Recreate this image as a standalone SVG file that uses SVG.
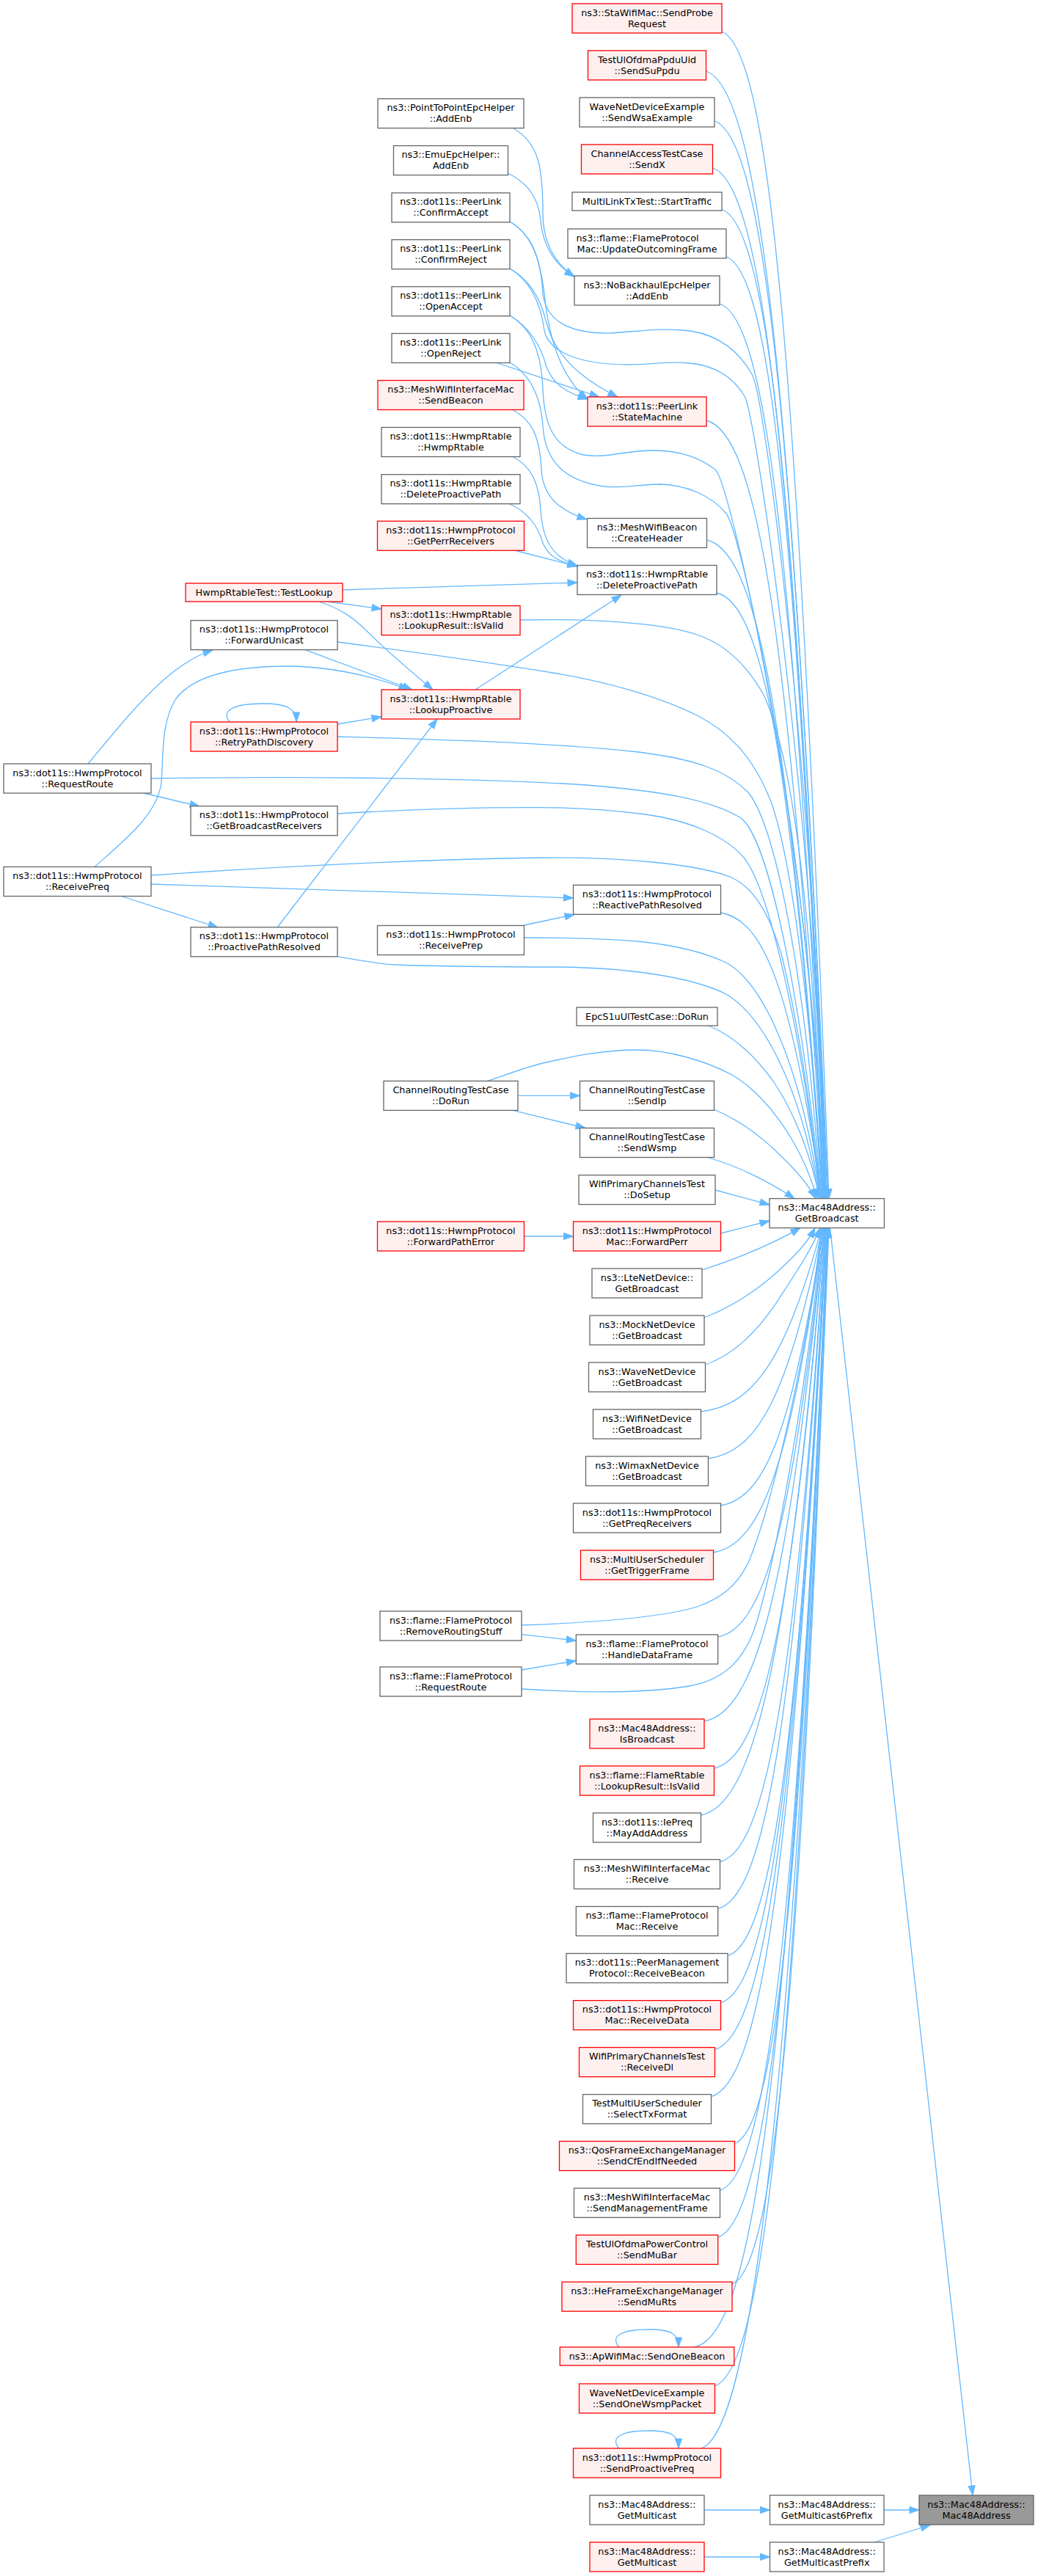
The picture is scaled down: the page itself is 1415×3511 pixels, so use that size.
<svg xmlns="http://www.w3.org/2000/svg" width="1415" height="3511" viewBox="0 0 1415 3511">
<defs>
<marker id="ah" markerUnits="userSpaceOnUse" markerWidth="16" markerHeight="12" refX="13" refY="5" orient="auto" overflow="visible">
<path d="M0,0.4 L13,5 L0,9.6 z" fill="#63b8ff" stroke="#63b8ff" stroke-width="1"/>
</marker>
<style>
.n rect{fill:#ffffff;stroke:#666666;stroke-width:1.3}
.r rect{fill:#fff0f0;stroke:#ff0000;stroke-width:1.3}
.g rect{fill:#999999;stroke:#666666;stroke-width:1.3}
text{font-family:"DejaVu Sans",sans-serif;font-size:12.8px;fill:#000000;text-anchor:middle}
text.s{text-anchor:start}
#edges path{fill:none;stroke:#63b8ff;stroke-width:1.3;marker-end:url(#ah)}
</style>
</defs>
<rect x="0" y="0" width="1415" height="3511" fill="#ffffff"/>
<g id="edges">
<path d="M984,43 C1045.3,67.1 1086.2,440.7 1130,1633.6"/>
<path d="M962.5,97 C1032.4,120.4 1079.1,481.2 1129,1633.6"/>
<path d="M974,165 C1038.7,187.6 1081.8,532.2 1128,1633.6"/>
<path d="M971.5,229 C1036.8,250.9 1080.4,580.2 1127,1633.6"/>
<path d="M984,285.5 C1043.6,306.7 1083.4,622.5 1126,1633.6"/>
<path d="M990,350 C1046.7,370.4 1084.5,670.9 1125,1633.6"/>
<path d="M981,414 C1041,433.6 1081.1,718.9 1124,1633.6"/>
<path d="M963,573 C1030.2,590.7 1075,838.2 1123,1633.6"/>
<path d="M963.5,736 C1030.1,751.8 1074.5,960.4 1122,1633.6"/>
<path d="M977,808 C1037.5,822.9 1077.8,1014.4 1121,1633.6"/>
<path d="M982.5,1244 C1039.8,1253.7 1078,1341.4 1120,1633.6"/>
<path d="M966,1398 C1000,1412 1030,1440 1055,1475 C1085,1520 1107,1580 1117,1633.6"/>
<path d="M973.5,1512 C1010,1528 1040,1550 1067,1578 C1087,1597 1102,1615 1112,1633.6"/>
<path d="M966,1578 C1000,1588 1040,1605 1083,1633.6"/>
<path d="M975,1622 L1049,1642"/>
<path d="M982.5,1681 L1049,1664"/>
<path d="M957,1731 C1000,1717 1050,1697 1091,1673.6"/>
<path d="M960,1796 C995,1782 1030,1760 1058,1735 C1083,1712 1100,1695 1111,1673.6"/>
<path d="M961.5,1860 C995,1848 1030,1820 1062,1770 C1088,1730 1108,1700 1118,1673.6"/>
<path d="M955.5,1924 C1023.8,1916 1069.3,1861.4 1120,1673.6"/>
<path d="M965.5,1988 C1030.4,1979.2 1073.6,1909.4 1121,1673.6"/>
<path d="M982.5,2052 C1040.7,2042.5 1079.5,1957.4 1122,1673.6"/>
<path d="M972.5,2116 C1035.3,2105.7 1077.2,2005.4 1122,1673.6"/>
<path d="M978.7,2231 C1039.3,2219.3 1079.7,2091.7 1123,1673.6"/>
<path d="M960,2346 C1028.9,2332.9 1074.8,2177.9 1123,1673.6"/>
<path d="M973.5,2410 C1037.1,2396.2 1079.6,2225.9 1124,1673.6"/>
<path d="M955.5,2474 C1026.7,2459.4 1074.2,2273.9 1124,1673.6"/>
<path d="M981.5,2537.5 C1042.2,2522.1 1082.7,2321.5 1125,1673.6"/>
<path d="M978.7,2601.5 C1040.6,2585.4 1081.8,2369.5 1125,1673.6"/>
<path d="M992,2665.5 C1048.7,2648.6 1086.5,2417.5 1126,1673.6"/>
<path d="M982.5,2729.6 C1043.2,2711.9 1083.7,2465.6 1126,1673.6"/>
<path d="M974.5,2793.6 C1039,2775.2 1082,2513.6 1127,1673.6"/>
<path d="M969.5,2857.6 C1036.1,2838.4 1080.5,2561.6 1127,1673.6"/>
<path d="M1001.5,2921.5 C1055.1,2901.5 1090.7,2609.5 1128,1673.6"/>
<path d="M981.5,2985.4 C1043.5,2964.7 1084.8,2657.5 1128,1673.6"/>
<path d="M978.7,3049.3 C1041.8,3027.8 1083.9,2705.4 1128,1673.6"/>
<path d="M998,3113.2 C1053.4,3090.9 1090.4,2753.3 1129,1673.6"/>
<path d="M947,3199 C1030,3180 1075,2817.6 1129,1673.6"/>
<path d="M974.5,3252 C1039.8,3228.1 1083.4,2857.4 1129,1673.6"/>
<path d="M956,3337 C1020,3315 1078.5,2921.2 1130,1673.6"/>
<path d="M700,175 C735,195 740,230 740,290 C740,330 755,358 783,377"/>
<path d="M692.5,236 C720,250 734,270 737,300 C740,335 755,360 783,377"/>
<path d="M695,302 C722,318 735,345 742,400 C748,460 765,515 801,544"/>
<path d="M695,366 C718,379 735,400 745,440 C758,490 800,520 842,541"/>
<path d="M695,430 C720,445 737,470 745,500 C755,525 772,535 801,544"/>
<path d="M677,494.5 L817,541"/>
<path d="M695,302 C725,320 737,350 740,400 C745,440 780,455 832,454 C870,452 890,447 930,450 C975,453 1005,475 1025,510 S1112,1100 1126,1633.6"/>
<path d="M695,366 C718,380 736,405 742,450 C748,480 790,497 857,497 C890,497 910,492 940,495 C975,498 1000,515 1015,540 S1110,1100 1125,1633.6"/>
<path d="M695,430 C725,448 738,480 740,530 C742,580 755,610 795,620 C830,625 850,614 890,614 C930,614 955,625 975,640 S1108,1150 1124,1633.6"/>
<path d="M695,494 C722,510 737,540 740,580 C743,630 770,655 823,663 C850,666 870,660 900,660 C935,661 970,675 990,700 S1106,1150 1123,1633.6"/>
<path d="M698,558 C725,572 736,595 738,640 C740,675 760,695 800,708"/>
<path d="M698,622 C725,635 735,660 737,695 C740,740 755,760 787,771"/>
<path d="M693,686 C718,697 733,715 740,740 C747,758 763,766 787,772"/>
<path d="M703,750.5 L787,772"/>
<path d="M466,804 L787,794"/>
<path d="M648,940 L847,811"/>
<path d="M447,820 L520,830"/>
<path d="M435,820 C462,829 480,840 500,860 C530,890 560,915 590,940"/>
<path d="M416,885.6 L562,940"/>
<path d="M460,987 L520,977"/>
<path d="M129,1181.5 C170,1145 215,1110 220,1066 C223,1030 219,985 240,952 C265,920 320,908 392,908 C440,908 500,918 557,940"/>
<path d="M378,1264 L596,980"/>
<path d="M120,1041 C150,1005 190,955 225,925 C248,905 268,893 290,886"/>
<path d="M196,1081 L272,1099"/>
<path d="M206,1061 C400,1058 650,1060 800,1070 C900,1078 970,1090 1010,1115 C1050,1145 1095,1380 1119,1633.6"/>
<path d="M460,1109 C560,1103 650,1100 740,1100.6 C800,1101 840,1105 880,1110 C940,1118 990,1140 1015,1170 C1050,1215 1095,1420 1118,1633.6"/>
<path d="M206,1193 C350,1183 550,1172 740,1169 C850,1168 950,1178 995,1195 C1030,1210 1050,1250 1065,1300 C1085,1380 1105,1500 1118,1633.6"/>
<path d="M206,1205 L781.5,1224"/>
<path d="M167,1222 L297,1264"/>
<path d="M460,1303.6 C490,1309 510,1313 540,1315 C620,1318 700,1318 760,1318 C850,1319 940,1330 990,1355 C1040,1385 1092,1480 1117,1633.6"/>
<path d="M714.5,1261 L783,1246.5"/>
<path d="M714.5,1278 C760,1278 820,1279 869,1283 C920,1288 960,1298 990,1312 C1040,1340 1092,1450 1118,1633.6"/>
<path d="M709,845 C800,843 900,848 950,865 C990,878 1020,910 1041,947 C1080,1030 1110,1250 1121,1633.6"/>
<path d="M460,875 C560,888 680,905 760,918 C830,930 900,950 950,975 C1000,1000 1030,1040 1050,1090 C1080,1170 1108,1400 1120,1633.6"/>
<path d="M460,1004 C600,1008 750,1012 870,1025 C950,1035 990,1050 1020,1080 C1060,1130 1100,1350 1119,1633.6"/>
<path d="M665,1473.4 C690,1465 715,1455 740,1449 C780,1440 820,1431 869,1431 C910,1431 960,1445 998,1465 C1040,1490 1090,1550 1114,1633.6"/>
<path d="M706,1493.4 L790.5,1493.4"/>
<path d="M699,1513.4 L798,1537.5"/>
<path d="M714.5,1685 L781.5,1685"/>
<path d="M711,2227.7 L785.3,2236"/>
<path d="M711,2276 L785.3,2263.6"/>
<path d="M711,2215 C800,2212 900,2205 950,2190 C985,2178 1005,2160 1020,2130 C1050,2060 1100,1850 1120,1673.6"/>
<path d="M711,2302 C790,2307 880,2308 940,2298 C985,2290 1010,2265 1025,2229 C1050,2170 1100,1900 1121,1673.6"/>
<path d="M960,3421 L1049.5,3421"/>
<path d="M960,3485 L1049.5,3485"/>
<path d="M1205,3421 L1253,3421"/>
<path d="M1192,3465 L1268,3441.5"/>
<path d="M1131.5,1673.6 L1326,3401"/>
<path d="M313,984 C300,968 320,959 358,959 C392,959 404,966 404,984"/>
<path d="M844,3199 C830,3183 850,3175 885,3175 C915,3175 925,3181 925,3199"/>
<path d="M844,3337 C830,3321 850,3313 884,3313 C915,3313 925,3319 925,3337"/>
</g>
<g id="n_sta" class="r"><rect x="780" y="5" width="204" height="40"/><text x="882" y="21.5">ns3::StaWifiMac::SendProbe</text><text x="882" y="36.5">Request</text></g>
<g id="n_testul" class="r"><rect x="801.5" y="69" width="161" height="40"/><text x="882" y="85.5">TestUlOfdmaPpduUid</text><text x="882" y="100.5">::SendSuPpdu</text></g>
<g id="n_wsa" class="n"><rect x="790" y="133" width="184" height="40"/><text x="882" y="149.5">WaveNetDeviceExample</text><text x="882" y="164.5">::SendWsaExample</text></g>
<g id="n_chx" class="r"><rect x="792.5" y="197" width="179" height="40"/><text x="882" y="213.5">ChannelAccessTestCase</text><text x="882" y="228.5">::SendX</text></g>
<g id="n_mltx" class="n"><rect x="780" y="262" width="204" height="25"/><text x="882" y="279">MultiLinkTxTest::StartTraffic</text></g>
<g id="n_flamemac" class="n"><rect x="774" y="312" width="216" height="40"/><text class="s" x="785.5" y="328.5">ns3::flame::FlameProtocol</text><text x="882" y="343.5">Mac::UpdateOutcomingFrame</text></g>
<g id="n_nobh" class="n"><rect x="783" y="376" width="198" height="40"/><text x="882" y="392.5">ns3::NoBackhaulEpcHelper</text><text x="882" y="407.5">::AddEnb</text></g>
<g id="n_sm" class="r"><rect x="801" y="541" width="162" height="40"/><text x="882" y="557.5">ns3::dot11s::PeerLink</text><text x="882" y="572.5">::StateMachine</text></g>
<g id="n_ch" class="n"><rect x="800.5" y="706.5" width="163" height="40"/><text x="882" y="723">ns3::MeshWifiBeacon</text><text x="882" y="738">::CreateHeader</text></g>
<g id="n_delD" class="n"><rect x="787" y="770.5" width="190" height="40"/><text x="882" y="787">ns3::dot11s::HwmpRtable</text><text x="882" y="802">::DeleteProactivePath</text></g>
<g id="n_rpr" class="n"><rect x="781.5" y="1206.3" width="201" height="40"/><text x="882" y="1222.8">ns3::dot11s::HwmpProtocol</text><text x="882" y="1237.8">::ReactivePathResolved</text></g>
<g id="n_epc" class="n"><rect x="786" y="1373" width="192" height="25"/><text x="882" y="1390">EpcS1uUlTestCase::DoRun</text></g>
<g id="n_sip" class="n"><rect x="790.5" y="1473.4" width="183" height="40"/><text x="882" y="1489.9">ChannelRoutingTestCase</text><text x="882" y="1504.9">::SendIp</text></g>
<g id="n_swsmp" class="n"><rect x="790.5" y="1537.5" width="183" height="40"/><text x="882" y="1554">ChannelRoutingTestCase</text><text x="882" y="1569">::SendWsmp</text></g>
<g id="n_dos" class="n"><rect x="789" y="1601.6" width="186" height="40"/><text x="882" y="1618.1">WifiPrimaryChannelsTest</text><text x="882" y="1633.1">::DoSetup</text></g>
<g id="n_fperr" class="r"><rect x="781.5" y="1665" width="201" height="40"/><text x="882" y="1681.5">ns3::dot11s::HwmpProtocol</text><text x="882" y="1696.5">Mac::ForwardPerr</text></g>
<g id="n_lte" class="n"><rect x="807" y="1729" width="150" height="40"/><text x="882" y="1745.5">ns3::LteNetDevice::</text><text x="882" y="1760.5">GetBroadcast</text></g>
<g id="n_mock" class="n"><rect x="804" y="1793" width="156" height="40"/><text x="882" y="1809.5">ns3::MockNetDevice</text><text x="882" y="1824.5">::GetBroadcast</text></g>
<g id="n_wave" class="n"><rect x="802.5" y="1857" width="159" height="40"/><text x="882" y="1873.5">ns3::WaveNetDevice</text><text x="882" y="1888.5">::GetBroadcast</text></g>
<g id="n_wifi" class="n"><rect x="808.5" y="1921" width="147" height="40"/><text x="882" y="1937.5">ns3::WifiNetDevice</text><text x="882" y="1952.5">::GetBroadcast</text></g>
<g id="n_wimax" class="n"><rect x="798.5" y="1985" width="167" height="40"/><text x="882" y="2001.5">ns3::WimaxNetDevice</text><text x="882" y="2016.5">::GetBroadcast</text></g>
<g id="n_gpreq" class="n"><rect x="781.5" y="2049" width="201" height="40"/><text x="882" y="2065.5">ns3::dot11s::HwmpProtocol</text><text x="882" y="2080.5">::GetPreqReceivers</text></g>
<g id="n_gtrig" class="r"><rect x="791.5" y="2113" width="181" height="40"/><text x="882" y="2129.5">ns3::MultiUserScheduler</text><text x="882" y="2144.5">::GetTriggerFrame</text></g>
<g id="n_hdf" class="n"><rect x="785.3" y="2228" width="193.4" height="40"/><text x="882" y="2244.5">ns3::flame::FlameProtocol</text><text x="882" y="2259.5">::HandleDataFrame</text></g>
<g id="n_isb" class="r"><rect x="804" y="2343" width="156" height="40"/><text x="882" y="2359.5">ns3::Mac48Address::</text><text x="882" y="2374.5">IsBroadcast</text></g>
<g id="n_frt" class="r"><rect x="790.5" y="2407" width="183" height="40"/><text x="882" y="2423.5">ns3::flame::FlameRtable</text><text x="882" y="2438.5">::LookupResult::IsValid</text></g>
<g id="n_may" class="n"><rect x="808.5" y="2471" width="147" height="40"/><text x="882" y="2487.5">ns3::dot11s::IePreq</text><text x="882" y="2502.5">::MayAddAddress</text></g>
<g id="n_mrecv" class="n"><rect x="782.5" y="2534.5" width="199" height="40"/><text x="882" y="2551">ns3::MeshWifiInterfaceMac</text><text x="882" y="2566">::Receive</text></g>
<g id="n_fmrecv" class="n"><rect x="785.3" y="2598.5" width="193.4" height="40"/><text x="882" y="2615">ns3::flame::FlameProtocol</text><text x="882" y="2630">Mac::Receive</text></g>
<g id="n_pmp" class="n"><rect x="772" y="2662.5" width="220" height="40"/><text x="882" y="2679">ns3::dot11s::PeerManagement</text><text x="882" y="2694">Protocol::ReceiveBeacon</text></g>
<g id="n_rdata" class="r"><rect x="781.5" y="2726.6" width="201" height="40"/><text x="882" y="2743.1">ns3::dot11s::HwmpProtocol</text><text x="882" y="2758.1">Mac::ReceiveData</text></g>
<g id="n_rdl" class="r"><rect x="789.5" y="2790.6" width="185" height="40"/><text x="882" y="2807.1">WifiPrimaryChannelsTest</text><text x="882" y="2822.1">::ReceiveDl</text></g>
<g id="n_stx" class="n"><rect x="794.5" y="2854.6" width="175" height="40"/><text x="882" y="2871.1">TestMultiUserScheduler</text><text x="882" y="2886.1">::SelectTxFormat</text></g>
<g id="n_scfe" class="r"><rect x="762.5" y="2918.5" width="239" height="40"/><text x="882" y="2935">ns3::QosFrameExchangeManager</text><text x="882" y="2950">::SendCfEndIfNeeded</text></g>
<g id="n_smgmt" class="n"><rect x="782.5" y="2982.4" width="199" height="40"/><text x="882" y="2998.9">ns3::MeshWifiInterfaceMac</text><text x="882" y="3013.9">::SendManagementFrame</text></g>
<g id="n_smubar" class="r"><rect x="785.3" y="3046.3" width="193.4" height="40"/><text x="882" y="3062.8">TestUlOfdmaPowerControl</text><text x="882" y="3077.8">::SendMuBar</text></g>
<g id="n_smurts" class="r"><rect x="766" y="3110.2" width="232" height="40"/><text x="882" y="3126.7">ns3::HeFrameExchangeManager</text><text x="882" y="3141.7">::SendMuRts</text></g>
<g id="n_sob" class="r"><rect x="763.3" y="3199" width="237.5" height="25"/><text x="882" y="3216">ns3::ApWifiMac::SendOneBeacon</text></g>
<g id="n_sowsmp" class="r"><rect x="789.5" y="3249" width="185" height="40"/><text x="882" y="3265.5">WaveNetDeviceExample</text><text x="882" y="3280.5">::SendOneWsmpPacket</text></g>
<g id="n_sppreq" class="r"><rect x="781.5" y="3337" width="201" height="40"/><text x="882" y="3353.5">ns3::dot11s::HwmpProtocol</text><text x="882" y="3368.5">::SendProactivePreq</text></g>
<g id="n_gm1" class="n"><rect x="804" y="3401" width="156" height="40"/><text x="882" y="3417.5">ns3::Mac48Address::</text><text x="882" y="3432.5">GetMulticast</text></g>
<g id="n_gm2" class="r"><rect x="804" y="3465" width="156" height="40"/><text x="882" y="3481.5">ns3::Mac48Address::</text><text x="882" y="3496.5">GetMulticast</text></g>
<g id="n_gb" class="n"><rect x="1049" y="1633.6" width="156.4" height="40"/><text x="1127.2" y="1650.1">ns3::Mac48Address::</text><text x="1127.2" y="1665.1">GetBroadcast</text></g>
<g id="n_gm6p" class="n"><rect x="1049.5" y="3401" width="155.5" height="40"/><text x="1127.2" y="3417.5">ns3::Mac48Address::</text><text x="1127.2" y="3432.5">GetMulticast6Prefix</text></g>
<g id="n_gmp" class="n"><rect x="1049.5" y="3465" width="155.5" height="40"/><text x="1127.2" y="3481.5">ns3::Mac48Address::</text><text x="1127.2" y="3496.5">GetMulticastPrefix</text></g>
<g id="n_mac" class="g"><rect x="1253" y="3401" width="156" height="40"/><text x="1331" y="3417.5">ns3::Mac48Address::</text><text x="1331" y="3432.5">Mac48Address</text></g>
<g id="n_p2p" class="n"><rect x="515" y="134.6" width="199" height="40"/><text x="614.5" y="151.1">ns3::PointToPointEpcHelper</text><text x="614.5" y="166.1">::AddEnb</text></g>
<g id="n_emu" class="n"><rect x="536.5" y="198.6" width="156" height="40"/><text x="614.5" y="215.1">ns3::EmuEpcHelper::</text><text x="614.5" y="230.1">AddEnb</text></g>
<g id="n_cacc" class="n"><rect x="534" y="262.9" width="161" height="40"/><text x="614.5" y="279.4">ns3::dot11s::PeerLink</text><text x="614.5" y="294.4">::ConfirmAccept</text></g>
<g id="n_crej" class="n"><rect x="534" y="326.7" width="161" height="40"/><text x="614.5" y="343.2">ns3::dot11s::PeerLink</text><text x="614.5" y="358.2">::ConfirmReject</text></g>
<g id="n_oacc" class="n"><rect x="534" y="390.7" width="161" height="40"/><text x="614.5" y="407.2">ns3::dot11s::PeerLink</text><text x="614.5" y="422.2">::OpenAccept</text></g>
<g id="n_orej" class="n"><rect x="534" y="454.5" width="161" height="40"/><text x="614.5" y="471">ns3::dot11s::PeerLink</text><text x="614.5" y="486">::OpenReject</text></g>
<g id="n_sbeacon" class="r"><rect x="515" y="518.5" width="199" height="40"/><text x="614.5" y="535">ns3::MeshWifiInterfaceMac</text><text x="614.5" y="550">::SendBeacon</text></g>
<g id="n_hrt" class="n"><rect x="520" y="582.5" width="189" height="40"/><text x="614.5" y="599">ns3::dot11s::HwmpRtable</text><text x="614.5" y="614">::HwmpRtable</text></g>
<g id="n_delC" class="n"><rect x="520" y="646.7" width="189" height="40"/><text x="614.5" y="663.2">ns3::dot11s::HwmpRtable</text><text x="614.5" y="678.2">::DeleteProactivePath</text></g>
<g id="n_gperr" class="r"><rect x="514.5" y="710.3" width="200" height="40"/><text x="614.5" y="726.8">ns3::dot11s::HwmpProtocol</text><text x="614.5" y="741.8">::GetPerrReceivers</text></g>
<g id="n_lrv" class="r"><rect x="520" y="825.6" width="189" height="40"/><text x="614.5" y="842.1">ns3::dot11s::HwmpRtable</text><text x="614.5" y="857.1">::LookupResult::IsValid</text></g>
<g id="n_lpro" class="r"><rect x="520" y="940" width="189" height="40"/><text x="614.5" y="956.5">ns3::dot11s::HwmpRtable</text><text x="614.5" y="971.5">::LookupProactive</text></g>
<g id="n_rprep" class="n"><rect x="514.5" y="1261.5" width="200" height="40"/><text x="614.5" y="1278">ns3::dot11s::HwmpProtocol</text><text x="614.5" y="1293">::ReceivePrep</text></g>
<g id="n_crdorun" class="n"><rect x="523" y="1473.4" width="183" height="40"/><text x="614.5" y="1489.9">ChannelRoutingTestCase</text><text x="614.5" y="1504.9">::DoRun</text></g>
<g id="n_fpe" class="r"><rect x="514.5" y="1665" width="200" height="40"/><text x="614.5" y="1681.5">ns3::dot11s::HwmpProtocol</text><text x="614.5" y="1696.5">::ForwardPathError</text></g>
<g id="n_rrs" class="n"><rect x="518" y="2196" width="193" height="40"/><text x="614.5" y="2212.5">ns3::flame::FlameProtocol</text><text x="614.5" y="2227.5">::RemoveRoutingStuff</text></g>
<g id="n_frr" class="n"><rect x="518" y="2272" width="193" height="40"/><text x="614.5" y="2288.5">ns3::flame::FlameProtocol</text><text x="614.5" y="2303.5">::RequestRoute</text></g>
<g id="n_tl" class="r"><rect x="253" y="795" width="214" height="25"/><text x="360" y="812">HwmpRtableTest::TestLookup</text></g>
<g id="n_fu" class="n"><rect x="260" y="845.6" width="200" height="40"/><text x="360" y="862.1">ns3::dot11s::HwmpProtocol</text><text x="360" y="877.1">::ForwardUnicast</text></g>
<g id="n_rpd" class="r"><rect x="260" y="984" width="200" height="40"/><text x="360" y="1000.5">ns3::dot11s::HwmpProtocol</text><text x="360" y="1015.5">::RetryPathDiscovery</text></g>
<g id="n_gbr" class="n"><rect x="260" y="1098.7" width="200" height="40"/><text x="360" y="1115.2">ns3::dot11s::HwmpProtocol</text><text x="360" y="1130.2">::GetBroadcastReceivers</text></g>
<g id="n_ppr" class="n"><rect x="260" y="1263.8" width="200" height="40"/><text x="360" y="1280.3">ns3::dot11s::HwmpProtocol</text><text x="360" y="1295.3">::ProactivePathResolved</text></g>
<g id="n_rr" class="n"><rect x="5" y="1041" width="201" height="40"/><text x="105.5" y="1057.5">ns3::dot11s::HwmpProtocol</text><text x="105.5" y="1072.5">::RequestRoute</text></g>
<g id="n_rpq" class="n"><rect x="5" y="1181.5" width="201" height="40"/><text x="105.5" y="1198">ns3::dot11s::HwmpProtocol</text><text x="105.5" y="1213">::ReceivePreq</text></g>
</svg>
